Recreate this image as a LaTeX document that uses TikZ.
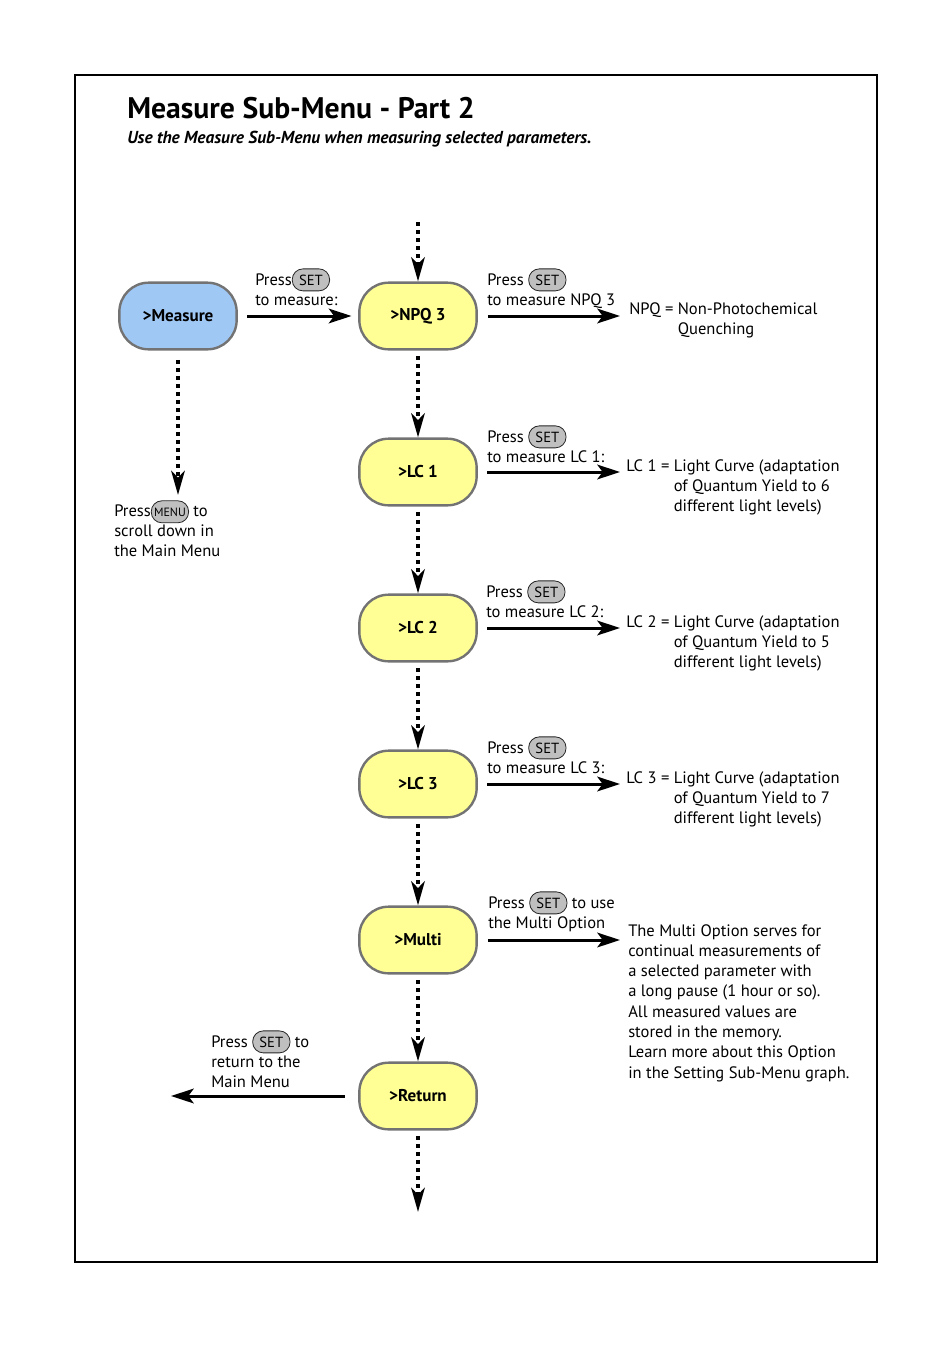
\documentclass[tikz,border=0pt]{standalone}
\usepackage{fontspec}
\setmainfont{PT Sans}
\usetikzlibrary{positioning}
\usetikzlibrary{arrows.meta}
\definecolor{menublue}{RGB}{160,200,245}
\definecolor{menuyellow}{RGB}{255,255,150}
\definecolor{menuedge}{RGB}{115,115,115}
\tikzset{node distance=117pt,
    menu/.style={
        draw=menuedge, line width=1.8pt,
        fill=menuyellow,
        rounded corners=22pt,
        minimum width=88pt, minimum height=50pt,
        font=\fontsize{12.8}{14}\selectfont\bfseries},
    button/.style={
        draw=black!85, fill=black!25, semithick,
        rounded corners=8pt,
        minimum width=28pt, minimum height=16.5pt, inner sep=1pt,
        font=\fontsize{11}{12}\selectfont},
    note/.style={
        align=left, anchor=base west, inner sep=0pt,
        font=\fontsize{12.4}{15}\selectfont},
    dotarrow/.style={
        draw, line width=3.5pt, dash pattern=on 3pt off 3pt,
        -{Stealth[length=18pt,width=10pt,inset=5pt]}},
    solidarrow/.style={
        draw, line width=2.25pt,
        -{Stealth[length=17pt,width=11pt,inset=4pt]}}}
\newcommand{\btn}[1]{\tikz[baseline=(b.base)]\node[button](b){#1};}

\begin{document}
\begin{tikzpicture}[x=0.75pt,y=-0.75pt]
    \useasboundingbox (0,0) rectangle (950,1353);
    \draw[line width=1.1pt] (75,75) rectangle (877,1262);

    % heading
    \node[anchor=base west, inner sep=0pt, font=\fontsize{22.3}{26}\selectfont\bfseries] (title) at (127,118) {Measure Sub-Menu - Part 2};
    \node[anchor=base west, inner sep=0pt, font=\fontsize{13}{15}\selectfont\bfseries\itshape] (subtitle) at (127,143) {Use the Measure Sub-Menu when measuring selected parameters.};

    % menu items
    \node[menu, fill=menublue] (measure) at (178,316) {>Measure};
    \node[menu] (npq3) at (418,316) {>NPQ 3};
    \node[menu, below of=npq3] (lc1) {>LC 1};
    \node[menu, below of=lc1] (lc2) {>LC 2};
    \node[menu, below of=lc2] (lc3) {>LC 3};
    \node[menu, below of=lc3] (multi) {>Multi};
    \node[menu, below of=multi] (return) {>Return};

    \coordinate (top) at (418,222);
    \coordinate (bottom) at (418,1212);
    \coordinate (down) at (178,495);
    \coordinate (ends) at (620,0);
    \coordinate (back) at (171,0);

    % scrolling
    \draw[dotarrow] (top) -- (npq3);
    \draw[dotarrow, shorten <=4pt] (npq3) -- (lc1);
    \draw[dotarrow, shorten <=4pt] (lc1) -- (lc2);
    \draw[dotarrow, shorten <=4pt] (lc2) -- (lc3);
    \draw[dotarrow, shorten <=4pt] (lc3) -- (multi);
    \draw[dotarrow, shorten <=4pt] (multi) -- (return);
    \draw[dotarrow, shorten <=4pt] (return) -- (bottom);
    \draw[dotarrow, shorten <=7pt] (measure) -- (down);

    % selecting
    \draw[solidarrow, shorten <=7pt, shorten >=5pt] (measure) -- (npq3);
    \draw[solidarrow, shorten <=7.5pt] (npq3) -- (npq3 -| ends);
    \draw[solidarrow, shorten <=7pt] (lc1) -- (lc1 -| ends);
    \draw[solidarrow, shorten <=7pt] (lc2) -- (lc2 -| ends);
    \draw[solidarrow, shorten <=7pt] (lc3) -- (lc3 -| ends);
    \draw[solidarrow, shorten <=7.5pt] (multi) -- (multi -| ends);
    \draw[solidarrow, shorten <=10pt] (return) -- (return -| back);

    % arrow labels (placed at the last line)
    \node[note] (pressmeasure) at (255,305) {Press\btn{SET}\\to measure:};
    \node[note] (pressnpq) at (487,305) {Press \btn{SET}\\to measure NPQ 3};
    \node[note] (presslc1) at (487,462) {Press \btn{SET}\\to measure LC 1:};
    \node[note] (presslc2) at (486,617) {Press \btn{SET}\\to measure LC 2:};
    \node[note] (presslc3) at (487,773) {Press \btn{SET}\\to measure LC 3:};
    \node[note] (pressmulti) at (488,928) {Press \btn{SET} to use\\the Multi Option};
    \node[note] (pressreturn) at (211,1087) {Press \btn{SET} to\\return to the\\Main Menu};
    \node[note] (pressmenu) at (114,556) {Press\btn{\fontsize{9}{10}\selectfont MENU} to\\scroll down in\\the Main Menu};

    % explanations
    \node[note] (npqnote) at (629,314) {NPQ = \begin{tabular}[t]{@{}l@{}}Non-Photochemical\\Quenching\end{tabular}};
    \node[note] (lc1note) at (626,471) {LC 1 = \begin{tabular}[t]{@{}l@{}}Light Curve (adaptation\\of Quantum Yield to 6\\different light levels)\end{tabular}};
    \node[note] (lc2note) at (626,627) {LC 2 = \begin{tabular}[t]{@{}l@{}}Light Curve (adaptation\\of Quantum Yield to 5\\different light levels)\end{tabular}};
    \node[note] (lc3note) at (626,783) {LC 3 = \begin{tabular}[t]{@{}l@{}}Light Curve (adaptation\\of Quantum Yield to 7\\different light levels)\end{tabular}};
    \node[note, font=\fontsize{12.4}{15.2}\selectfont] (multinote) at (628,1078) {The Multi Option serves for\\continual measurements of\\a selected parameter with\\a long pause (1 hour or so).\\All measured values are\\stored in the memory.\\Learn more about this Option\\in the Setting Sub-Menu graph.};
\end{tikzpicture}
\end{document}
